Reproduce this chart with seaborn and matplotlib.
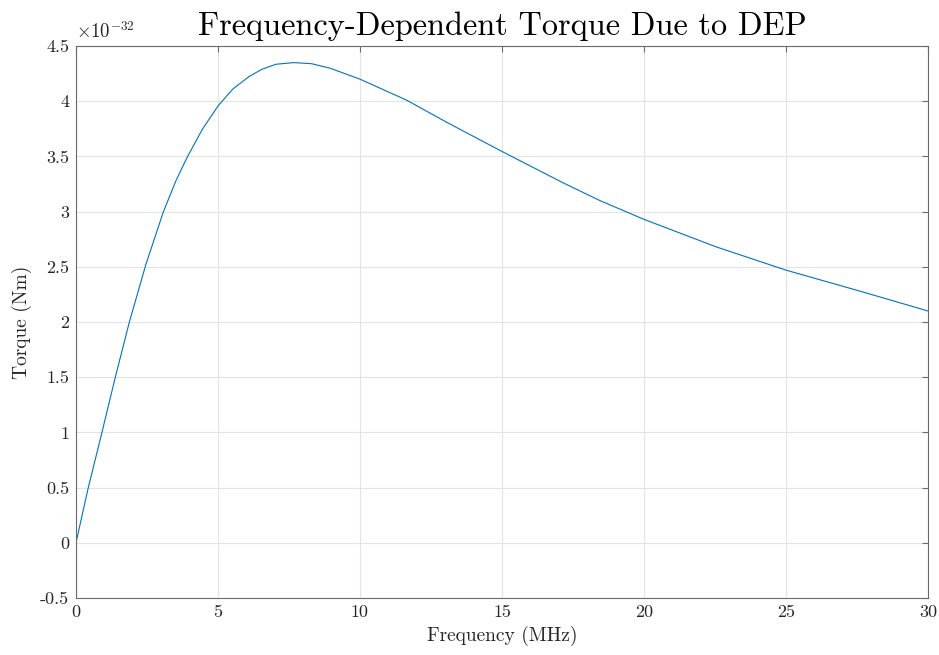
import numpy as np
import pandas as pd
import seaborn as sns
import matplotlib.pyplot as plt
from matplotlib.ticker import FuncFormatter, MultipleLocator

# frequency (MHz) and torque (x1e-32 Nm)
freq = [0, 0.434, 0.915, 1.385, 1.88, 2.46, 2.64, 3.08, 3.52, 3.93, 4.46,
        5.01, 5.52, 6.1, 6.55, 7.04, 7.67, 8.3, 8.94, 10, 11.64, 13.05,
        15, 17.16, 18.45, 20, 22.55, 25, 27.6, 30]
torque = [0, 0.5, 1.0, 1.5, 2.0, 2.52, 2.66, 3.0, 3.28, 3.5, 3.75,
          3.96, 4.11, 4.225, 4.29, 4.335, 4.35, 4.34, 4.30, 4.20, 4.01, 3.81,
          3.545, 3.26, 3.10, 2.93, 2.68, 2.47, 2.28, 2.10]

df = pd.DataFrame({'Frequency': freq, 'Torque': torque})

sns.set_style('white')
plt.rcParams['font.family'] = ['cmr10', 'DejaVu Serif']
plt.rcParams['mathtext.fontset'] = 'cm'
plt.rcParams['axes.formatter.use_mathtext'] = True

fig = plt.figure(figsize=(9.39, 6.55), dpi=100)
ax = fig.add_axes([0.0809, 0.0870, 0.9074, 0.8427])

sns.lineplot(data=df, x='Frequency', y='Torque', ax=ax, color='#0072BD', linewidth=0.8)

ax.set_xlim(0, 30)
ax.set_ylim(-0.5, 4.5)
ax.xaxis.set_major_locator(MultipleLocator(5))
ax.yaxis.set_major_locator(MultipleLocator(0.5))
fmt = FuncFormatter(lambda v, p: '%g' % v)
ax.xaxis.set_major_formatter(fmt)
ax.yaxis.set_major_formatter(fmt)

ax.grid(True, color='#e3e3e3', linewidth=0.8)
for s in ax.spines.values():
    s.set_color('#6a6a6a')
    s.set_linewidth(0.8)
ax.tick_params(direction='in', length=4, width=0.8, color='#6a6a6a',
               top=True, right=True, labelsize=13, labelcolor='#262626', pad=5)

ax.set_xlabel('Frequency (MHz)', fontsize=14, color='#262626', labelpad=4)
ax.set_ylabel('Torque (Nm)', fontsize=14, color='#262626', labelpad=6)
ax.set_title('Frequency-Dependent Torque Due to DEP', fontsize=23.3, color='black', pad=8)
ax.text(0.0, 1.008, r'$\times10^{-32}$', transform=ax.transAxes, fontsize=13.5,
        color='#262626', ha='left', va='bottom')

plt.savefig('out.png', dpi=100)
